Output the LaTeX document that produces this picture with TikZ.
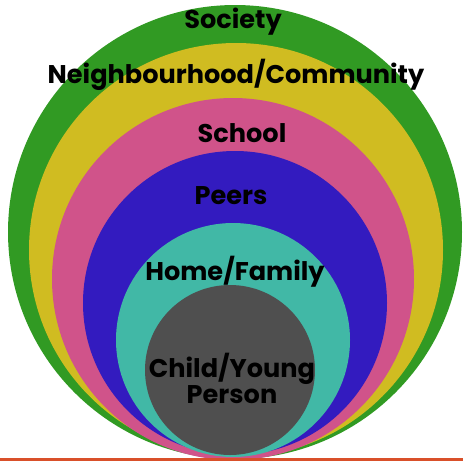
\documentclass[tikz,border=0pt]{standalone}
\usepackage{fontspec}
\setmainfont{Poppins}
\definecolor{societygreen}{HTML}{319A23}
\definecolor{communityyellow}{HTML}{D0BC21}
\definecolor{schoolpink}{HTML}{D0538A}
\definecolor{peersblue}{HTML}{331BBF}
\definecolor{hometeal}{HTML}{41B8A6}
\definecolor{childgrey}{HTML}{4F4F4F}
\definecolor{baseorange}{HTML}{D9502A}
\begin{document}
\begin{tikzpicture}[x=1pt,y=-1pt,
            ring/.style={circle,inner sep=0pt,outer sep=0pt},
            ring label/.style={font=\fontsize{25.6}{26}\selectfont\bfseries,align=center,inner sep=0pt}]

        \useasboundingbox (0,0) rectangle (463,461);

        % Define rings
        \node[ring,fill=societygreen,minimum size=454pt] (society) at (235,232) {};
        \node[ring,fill=communityyellow,minimum size=414pt] (community) at (236,250) {};
        \node[ring,fill=schoolpink,minimum size=362pt] (school) at (233,279) {};
        \node[ring,fill=peersblue,minimum size=304pt] (peers) at (235,303) {};
        \node[ring,fill=hometeal,minimum size=234pt] (home) at (233,340) {};
        \node[ring,fill=childgrey,minimum size=170pt] (child) at (230,370) {};

        % Define labels
        \node[ring label] (society text) at (233,22) {Society};
        \node[ring label] (community text) at (236,75) {Neighbourhood/Community};
        \node[ring label] (school text) at (242,133) {School};
        \node[ring label] (peers text) at (231,196) {Peers};
        \node[ring label] (home text) at (235,272) {Home/Family};
        \node[ring label] (child text) at (232,378) {Child/Young\\Person};

        % Draw base line
        \coordinate (base west) at (0,459.5);
        \coordinate (base east) at (463,459.5);
        \draw[baseorange,line width=3pt] (base west) -- (base east);

\end{tikzpicture}
\end{document}
